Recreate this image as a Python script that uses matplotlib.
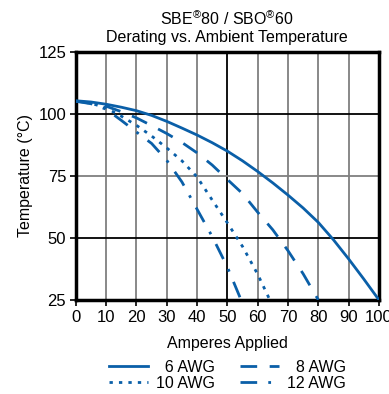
import matplotlib.pyplot as plt

plt.rcParams['font.family'] = ['Liberation Sans', 'DejaVu Sans']
plt.rcParams['mathtext.fontset'] = 'custom'
plt.rcParams['mathtext.rm'] = 'Liberation Sans'

# wire gauge derating curves (amps, temperature °C)
amps_6 = [0, 5, 10, 15, 20, 25, 30, 35, 40, 45, 50, 55, 60, 65, 70, 75, 80, 85, 90, 95, 100]
temp_6 = [105.2, 104.7, 103.8, 102.6, 101.2, 99.3, 96.9, 94.2, 91.4, 88.3, 84.9, 81.0, 76.7,
          72.1, 67.2, 62.0, 56.2, 49.2, 41.5, 33.4, 25.0]

amps_8 = [0, 5, 10, 15, 20, 25, 30, 35, 40, 45, 50, 55, 60, 65, 70, 75, 80]
temp_8 = [105.0, 104.3, 103.0, 100.8, 98.3, 95.2, 92.0, 88.4, 84.2, 79.3, 73.5, 67.8, 60.3,
          53.2, 44.8, 35.5, 25.0]

amps_10 = [0, 5, 10, 15, 20, 25, 30, 35, 40, 45, 50, 55, 60, 64]
temp_10 = [105.0, 104.2, 102.3, 99.0, 95.3, 91.0, 86.2, 81.0, 74.5, 65.2, 56.0, 46.5, 35.3, 25.0]

amps_12 = [0, 5, 10, 15, 20, 25, 30, 35, 40, 45, 50, 54.5]
temp_12 = [105.0, 104.0, 101.8, 97.3, 92.6, 88.0, 81.2, 72.5, 61.5, 50.5, 38.2, 25.0]

labels = ['\u20076 AWG', '\u20078 AWG', '10 AWG', '12 AWG']
x_ticks = list(range(0, 101, 10))
y_ticks = [25, 50, 75, 100, 125]

blue = '#0a5fa8'

fig = plt.figure(figsize=(3.89, 3.94), dpi=100)
ax = fig.add_axes([0.195, 0.239, 0.779, 0.630])

# grid: grey lines, darker at 50 A and 50/100 °C
for x in x_ticks[1:-1]:
    ax.axvline(x, color='black' if x == 50 else '#7f7f7f', lw=1.3, zorder=1)
for y in y_ticks[1:-1]:
    ax.axhline(y, color='black' if y in (50, 100) else '#7f7f7f', lw=1.3, zorder=1)

l6, = ax.plot(amps_6, temp_6, color=blue, lw=2, ls='-', label=labels[0], zorder=3)
l8, = ax.plot(amps_8, temp_8, color=blue, lw=2, ls=(0, (6, 4.5)), label=labels[1], zorder=3)
l10, = ax.plot(amps_10, temp_10, color=blue, lw=2, ls=(0, (1.2, 2.2)), label=labels[2], zorder=3)
l12, = ax.plot(amps_12, temp_12, color=blue, lw=2, ls=(0, (6, 4, 1, 4)), label=labels[3], zorder=3)

ax.set_xlim(0, 100)
ax.set_ylim(25, 125)
ax.set_xticks(x_ticks)
ax.set_yticks(y_ticks)
ax.tick_params(labelsize=12, length=4, width=1.2, pad=3)
for s in ax.spines.values():
    s.set_linewidth(2.5)

ax.set_xlabel('Amperes Applied', fontsize=11.5, labelpad=8)
ax.set_ylabel('Temperature (°C)', fontsize=11.5, labelpad=4)
ax.set_title('SBE$^{\u00ae}$80 / SBO$^{\u00ae}$60\nDerating vs. Ambient Temperature',
             fontsize=11.5, linespacing=1.15, pad=7)

fig.legend(handles=[l6, l10, l8, l12], labels=[labels[0], labels[2], labels[1], labels[3]],
           ncol=2, loc='center', bbox_to_anchor=(0.585, 0.047), frameon=False,
           fontsize=11.5, handlelength=2.4, columnspacing=1.6, labelspacing=0.05,
           handletextpad=0.5)

fig.savefig('out.png', dpi=100)
